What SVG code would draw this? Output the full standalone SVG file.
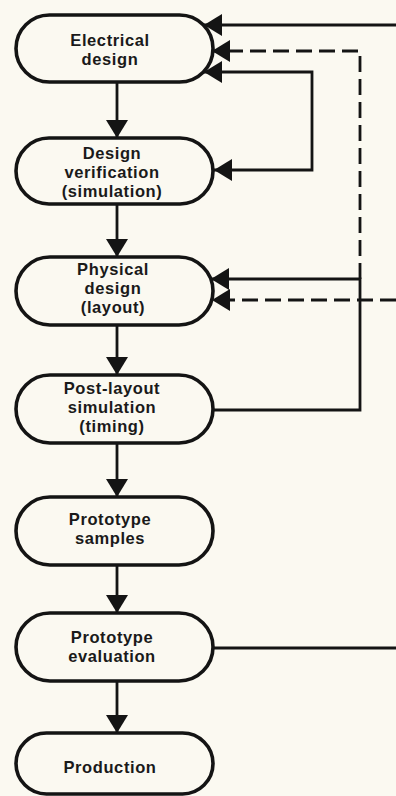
<svg xmlns="http://www.w3.org/2000/svg" width="396" height="796" viewBox="0 0 396 796">
<style>
.node rect{fill:none;stroke:#141414;stroke-width:3.6}
.node text{font-family:"Liberation Sans",Arial,sans-serif;font-weight:bold;font-size:16.5px;letter-spacing:0.6px;fill:#1a1a1a;text-anchor:middle}
.ln{fill:none;stroke:#141414;stroke-width:2.8}
.dash{stroke-dasharray:16 7}
</style>
<defs>
<marker id="arr" viewBox="0 0 18 22" refX="18" refY="11" markerWidth="18" markerHeight="22" markerUnits="userSpaceOnUse" orient="auto-start-reverse">
<path d="M0,0 L18,11 L0,22 z" fill="#141414"/>
</marker>
</defs>
<rect width="396" height="796" fill="#fbf9f1"/>
<g id="connectors">
<path class="ln" d="M117,82 V138" marker-end="url(#arr)"/>
<path class="ln" d="M117,204 V257" marker-end="url(#arr)"/>
<path class="ln" d="M117,325 V375" marker-end="url(#arr)"/>
<path class="ln" d="M117,443 V497" marker-end="url(#arr)"/>
<path class="ln" d="M117,565 V613" marker-end="url(#arr)"/>
<path class="ln" d="M117,681 V733" marker-end="url(#arr)"/>
<path class="ln" d="M396,25 H204" marker-end="url(#arr)"/>
<path class="ln dash" d="M360,279 V51 H212" marker-end="url(#arr)"/>
<path class="ln" d="M214,170 H312 V72 H204" marker-start="url(#arr)" marker-end="url(#arr)"/>
<path class="ln" d="M213,410 H360 V279 H211" marker-end="url(#arr)"/>
<path class="ln dash" d="M396,300 H212" marker-end="url(#arr)"/>
<path class="ln" d="M213,648 H396"/>
</g>
<g id="electrical-design" class="node">
<rect x="16" y="15" width="197" height="67" rx="33.5"/>
<text x="110" y="46">Electrical</text>
<text x="110" y="65">design</text>
</g>
<g id="design-verification" class="node">
<rect x="16" y="138" width="197" height="66" rx="33"/>
<text x="112" y="159">Design</text>
<text x="112" y="178">verification</text>
<text x="112" y="197">(simulation)</text>
</g>
<g id="physical-design" class="node">
<rect x="16" y="257" width="197" height="68" rx="34"/>
<text x="113" y="275">Physical</text>
<text x="113" y="294">design</text>
<text x="113" y="313">(layout)</text>
</g>
<g id="post-layout-simulation" class="node">
<rect x="16" y="375" width="197" height="68" rx="34"/>
<text x="112" y="394">Post-layout</text>
<text x="112" y="413">simulation</text>
<text x="112" y="432">(timing)</text>
</g>
<g id="prototype-samples" class="node">
<rect x="16" y="497" width="197" height="68" rx="34"/>
<text x="110" y="525">Prototype</text>
<text x="110" y="544">samples</text>
</g>
<g id="prototype-evaluation" class="node">
<rect x="16" y="613" width="197" height="68" rx="34"/>
<text x="112" y="643">Prototype</text>
<text x="112" y="662">evaluation</text>
</g>
<g id="production" class="node">
<rect x="16" y="733" width="197" height="61" rx="30.5"/>
<text x="110" y="773">Production</text>
</g>
</svg>
